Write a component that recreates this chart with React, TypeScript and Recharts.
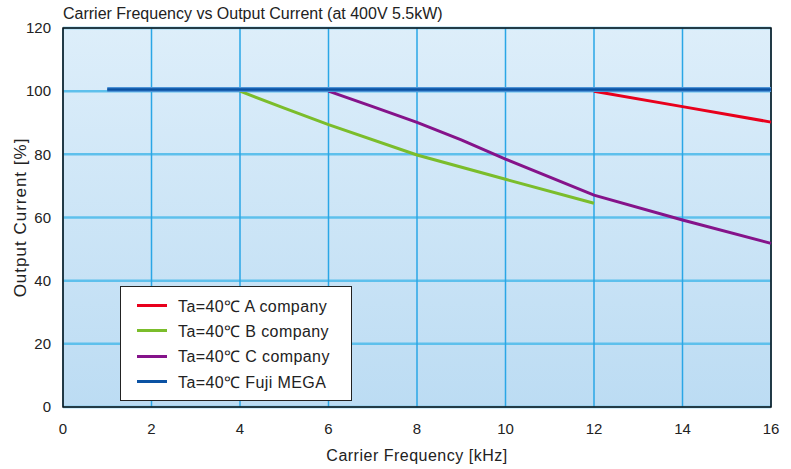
import { LineChart, Line, XAxis, YAxis, CartesianGrid, Legend, ReferenceArea, Label } from 'recharts';

const freqTicks = [0, 2, 4, 6, 8, 10, 12, 14, 16];
const currentTicks = [0, 20, 40, 60, 80, 100, 120];

const fujiFreq = [1, 16];
const fujiCurrent = [100.5, 100.5];

const aFreq = [12, 14, 16];
const aCurrent = [100, 95.1, 90.2];

const bFreq = [4, 5, 6, 8, 10, 12];
const bCurrent = [100, 94.6, 89.4, 79.8, 72.1, 64.5];

const cFreq = [6, 7, 8, 9, 10, 12, 14, 16];
const cCurrent = [100, 95.1, 90.1, 84.6, 78.5, 67.1, 59.2, 51.8];

const toPoints = (xs: number[], ys: number[]) => xs.map((f, i) => ({ freq: f, current: ys[i] }));

const seriesA = toPoints(aFreq, aCurrent);
const seriesB = toPoints(bFreq, bCurrent);
const seriesC = toPoints(cFreq, cCurrent);
const seriesFuji = toPoints(fujiFreq, fujiCurrent);

const font = '"Liberation Sans", Arial, Helvetica, sans-serif';

function LegendBox({ payload }: any) {
  const items = (payload || []).filter((p: any) => p.type !== 'none');
  return (
    <div
      style={{
        background: '#fff',
        border: '1px solid #222',
        boxSizing: 'border-box',
        width: 232,
        height: 115,
        padding: '6px 0 0 16px',
        fontFamily: font,
        fontSize: 16,
        letterSpacing: 0.4,
        color: '#222',
        textAlign: 'left',
      }}
    >
      {items.map((it: any) => (
        <div key={it.value} style={{ display: 'flex', alignItems: 'center', height: 25.3 }}>
          <span style={{ display: 'inline-block', width: 30, height: 3, background: it.color, marginRight: 11 }} />
          <span>{it.value}</span>
        </div>
      ))}
    </div>
  );
}

export default function App() {
  return (
    <div style={{ position: 'relative', width: 791, height: 469, background: '#fff' }}>
      <style>{'body{margin:0}'}</style>
      <div
        style={{
          position: 'absolute',
          left: 63,
          top: 5,
          fontFamily: font,
          fontSize: 16,
          color: '#222',
          whiteSpace: 'nowrap',
        }}
      >
        Carrier Frequency vs Output Current (at 400V 5.5kW)
      </div>
      <LineChart width={791} height={469} margin={{ top: 28, right: 20, left: 0, bottom: 0 }}>
        <defs>
          <linearGradient id="plotBg" x1="0" y1="0" x2="0" y2="1">
            <stop offset="0%" stopColor="#ddeefa" />
            <stop offset="100%" stopColor="#bcdcf3" />
          </linearGradient>
        </defs>
        <CartesianGrid fill="url(#plotBg)" vertical={false} stroke="#5ec0ec" strokeWidth={2.5} />
        <CartesianGrid horizontal={false} stroke="#2aa6e6" strokeWidth={1.5} />
        <XAxis
          dataKey="freq"
          type="number"
          domain={[0, 16]}
          ticks={freqTicks}
          height={62}
          axisLine={false}
          tickLine={false}
          tickSize={8}
          tickMargin={8}
          tick={{ fill: '#222', fontSize: 15, fontFamily: font }}
          allowDuplicatedCategory={false}
        >
          <Label
            value="Carrier Frequency [kHz]"
            position="insideBottom"
            offset={8}
            style={{ fill: '#222', fontSize: 16, letterSpacing: 0.5, fontFamily: font }}
          />
        </XAxis>
        <YAxis
          type="number"
          domain={[0, 120]}
          ticks={currentTicks}
          width={63}
          axisLine={false}
          tickLine={false}
          tickSize={6}
          tickMargin={6}
          tick={{ fill: '#222', fontSize: 15, fontFamily: font }}
        >
          <Label
            value="Output Current [%]"
            angle={-90}
            position="insideLeft"
            offset={20}
            style={{ fill: '#222', fontSize: 17, letterSpacing: 1, fontFamily: font, textAnchor: 'middle' }}
          />
        </YAxis>
        <ReferenceArea x1={0} x2={16} y1={0} y2={120} fill="none" stroke="#111" strokeWidth={1.5} ifOverflow="visible" />
        <Line data={seriesA} dataKey="current" name="Ta=40℃ A company" stroke="#e8001c" strokeWidth={3} dot={false} isAnimationActive={false} />
        <Line data={seriesB} dataKey="current" name="Ta=40℃ B company" stroke="#7bbd2b" strokeWidth={3} dot={false} isAnimationActive={false} />
        <Line data={seriesC} dataKey="current" name="Ta=40℃ C company" stroke="#85138a" strokeWidth={3} dot={false} isAnimationActive={false} />
        <Line data={seriesFuji} dataKey="current" name="fuji-edge" legendType="none" stroke="#4d93d6" strokeWidth={5} dot={false} isAnimationActive={false} />
        <Line data={seriesFuji} dataKey="current" name="Ta=40℃ Fuji MEGA" stroke="#0b52a3" strokeWidth={2.5} dot={false} isAnimationActive={false} />
        <Legend
          layout="horizontal"
          verticalAlign="middle"
          align="center"
          content={<LegendBox />}
          wrapperStyle={{ left: 120, top: 286, width: 232, height: 115, bottom: 'auto' }}
        />
      </LineChart>
    </div>
  );
}
